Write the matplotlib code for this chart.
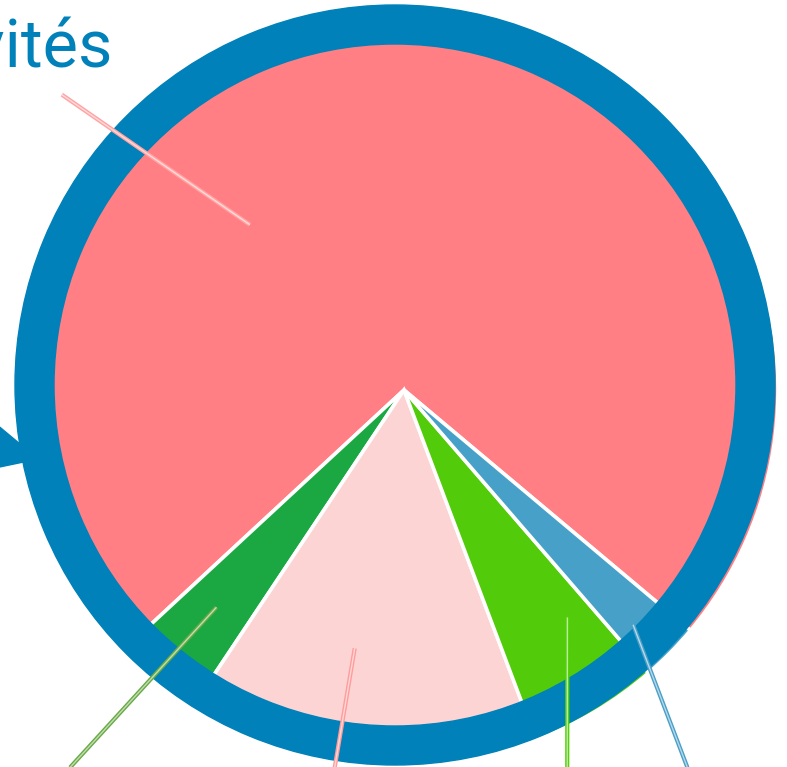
import matplotlib
matplotlib.use('Agg')
import matplotlib.pyplot as plt
from matplotlib.patches import Wedge, Polygon
import numpy as np

# slice shares (%)
shares = [73.0, 3.75, 15.1, 5.6, 2.55]
colors = ['#ff7f84', '#1ba843', '#fcd4d4', '#52cc0a', '#47a0c8']
leader_colors = ['#ffa3a3', '#68aa44', '#ff9c9c', '#55d00c', '#4a9fc8']
# leader lines: (start angle, start radius, end angle, end radius) around pie centre
leader_start = [(133.0, 226), (229.2, 287), (259.2, 263), (305.7, 280), (314.3, 328)]
leader_end = [(139.2, 452), (228.5, 504), (259.6, 384), (293.4, 411), (306.9, 472)]
title = 'Activités'

W, H = 787, 767
ring_blue = '#0081b9'

fig = plt.figure(figsize=(W / 100, H / 100), dpi=100)
ax = fig.add_axes([0, 0, 1, 1])

pie_c = (404, H - 390)
ring_c = (395, H - 385)

ax.pie(shares, colors=colors, startangle=320, counterclock=True,
       center=pie_c, radius=374,
       wedgeprops=dict(edgecolor='white', linewidth=2.6))

# blue frame ring + little tail on the left
ax.add_patch(Polygon([(-10, H - 419), (38, H - 459), (-10, H - 469)],
                     closed=True, color=ring_blue, zorder=4))
ax.add_patch(Wedge(ring_c, 380, 0, 360, width=39, color=ring_blue, zorder=5))

# leader lines (double stroke look), drawn over the ring
for (a0, r0), (a1, r1), col in zip(leader_start, leader_end, leader_colors):
    x0 = pie_c[0] + r0 * np.cos(np.radians(a0))
    y0 = pie_c[1] + r0 * np.sin(np.radians(a0))
    x1 = pie_c[0] + r1 * np.cos(np.radians(a1))
    y1 = pie_c[1] + r1 * np.sin(np.radians(a1))
    ax.plot([x0, x1], [y0, y1], color=col, lw=3.0, solid_capstyle='butt', zorder=7)
    ax.plot([x0, x1], [y0, y1], color='white', lw=1.0, alpha=0.6,
            solid_capstyle='butt', zorder=7)

ax.text(112, H - 67, title, ha='right', va='baseline', fontsize=48,
        color=ring_blue, family=['Roboto', 'DejaVu Sans'], zorder=8)

ax.set_xlim(0, W)
ax.set_ylim(0, H)
ax.set_aspect('equal')
ax.axis('off')

plt.savefig('out.png', dpi=100)
